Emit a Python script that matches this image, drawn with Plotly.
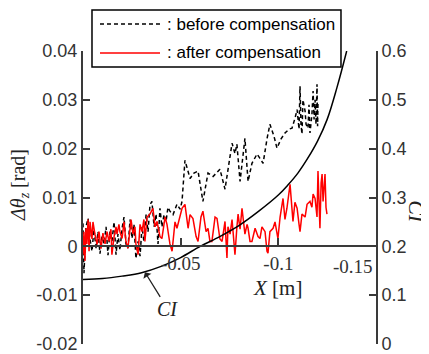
import plotly.graph_objects as go

# ---- data (X in mm, converted to m below; angles in rad) ----
before_x_mm = [0, -0.5, -1.5, -2.6, -3.6, -4.6, -5.6, -6.7, -7.7, -8.7, -9.7, -10.8, -11.8, -12.8,
               -13.8, -14.8, -15.9, -16.9, -17.9, -18.9, -20.0, -21.0, -22.0, -23.0, -24.1, -25.1,
               -26.1, -27.1, -28.2, -29.2, -30.2, -31.2, -32.3, -33.3, -34.3, -35.3, -36.4, -37.4,
               -38.4, -39.4, -40.4, -41.5, -42.5, -43.5, -44.5, -46.1, -48.1, -49.7, -50.7, -52.2,
               -54.8, -56.8, -58.9, -61.4, -64.0, -66.6, -70.1, -72.7, -76.3, -77.8, -78.8, -80.4,
               -82.9, -84.5, -86.5, -89.1, -90.6, -92.2, -94.2, -95.7, -97.8, -99.3, -101.4, -103.4,
               -105.5, -107.0, -108.5, -109.6, -110.6, -111.1, -111.6, -112.1, -112.6, -113.7,
               -114.2, -115.2, -115.7, -116.2, -117.2, -117.8, -118.3, -118.8, -119.3, -119.8,
               -120.1, -120.3]
before_val = [0.0047, -0.0055, 0.0040, 0.0057, 0.0015, -0.0010, 0.0035, -0.0004, 0.0030, -0.0015,
              0.0020, 0.0005, 0.0040, -0.0018, 0.0030, 0.0010, 0.0050, -0.0017, 0.0025, -0.0008,
              0.0037, 0.0060, 0.0005, -0.0004, 0.0055, 0.0016, 0.0045, -0.0025, 0.0010, -0.0020,
              0.0040, 0.0010, 0.0065, 0.0030, 0.0085, 0.0092, 0.0040, 0.0066, 0.0005, 0.0078,
              0.0040, 0.0065, 0.0051, 0.0080, 0.0072, 0.0065, 0.0086, 0.0076, 0.0092, 0.0176,
              0.0139, 0.0150, 0.0154, 0.0092, 0.0150, 0.0143, 0.0158, 0.0117, 0.0211, 0.0190,
              0.0209, 0.0133, 0.0221, 0.0133, 0.0170, 0.0189, 0.0180, 0.0170, 0.0220, 0.0250,
              0.0225, 0.0201, 0.0220, 0.0232, 0.0240, 0.0242, 0.0262, 0.0280, 0.0240, 0.0328,
              0.0250, 0.0230, 0.0300, 0.0277, 0.0250, 0.0242, 0.0290, 0.0232, 0.0270, 0.0318,
              0.0260, 0.0300, 0.0250, 0.0332, 0.0246, 0.0297]

after_x_mm = [0, -0.5, -1.0, -1.5, -2.0, -2.6, -3.1, -3.6, -4.6, -5.1, -6.1, -7.2, -8.2, -9.2, -10.2,
              -11.3, -12.3, -13.3, -14.3, -14.8, -15.9, -16.9, -17.4, -18.4, -18.9, -20.0, -21.0,
              -22.0, -23.0, -24.1, -24.6, -25.6, -26.6, -27.1, -28.2, -29.2, -30.2, -31.2, -31.7,
              -32.8, -34.3, -35.8, -36.9, -37.9, -39.4, -40.4, -42.0, -43.0, -44.5, -45.6, -47.1,
              -48.1, -49.7, -50.7, -52.2, -53.8, -54.8, -56.3, -57.9, -58.9, -60.4, -61.4, -63.0,
              -64.0, -65.0, -66.0, -67.6, -68.6, -70.1, -71.2, -72.7, -73.7, -74.2, -75.3, -76.3,
              -77.8, -78.8, -79.4, -80.4, -81.4, -82.9, -84.0, -84.5, -85.5, -86.5, -88.1, -89.6,
              -90.6, -91.6, -93.2, -94.2, -94.7, -95.7, -97.3, -98.3, -99.8, -100.9, -102.4,
              -103.4, -104.4, -106.0, -107.0, -107.5, -108.5, -109.6, -110.6, -111.1, -112.1,
              -113.7, -114.7, -116.2, -117.2, -117.8, -118.8, -119.8, -120.3, -121.3, -121.9,
              -122.4, -122.9, -123.4, -123.9, -124.4, -124.9]
after_val = [-0.0017, 0.0030, -0.0030, 0.0037, 0.0005, 0.0055, -0.0010, 0.0050, 0.0015, 0.0050,
             0.0025, 0.0004, 0.0030, -0.0005, 0.0027, 0.0005, 0.0030, 0.0010, 0.0035, -0.0017,
             0.0020, 0.0040, 0.0025, 0.0045, 0.0030, 0.0016, 0.0050, 0.0010, -0.0004, 0.0040,
             0.0055, 0.0025, 0.0040, 0.0005, -0.0017, 0.0045, 0.0030, 0.0055, 0.0010, 0.0060,
             0.0066, 0.0078, 0.0040, 0.0051, 0.0020, 0.0016, 0.0060, 0.0045, 0.0005, -0.0010,
             0.0050, 0.0037, 0.0060, 0.0078, 0.0086, 0.0037, 0.0065, 0.0057, 0.0020, 0.0010,
             0.0060, 0.0072, 0.0030, 0.0037, 0.0010, 0.0010, 0.0060, 0.0057, 0.0015, 0.0010,
             0.0051, -0.0024, 0.0040, 0.0025, 0.0055, -0.0017, 0.0040, 0.0066, 0.0035, 0.0078,
             0.0025, 0.0045, 0.0037, 0.0010, 0.0010, 0.0037, 0.0020, 0.0016, 0.0040, 0.0030,
             -0.0010, -0.0014, 0.0030, 0.0037, 0.0050, 0.0016, 0.0060, 0.0098, 0.0055, 0.0078,
             0.0127, 0.0070, 0.0051, 0.0090, 0.0078, 0.0045, 0.0030, 0.0066, 0.0060, 0.0086,
             0.0092, 0.0080, 0.0107, 0.0098, 0.0060, 0.0154, 0.0037, 0.0130, 0.0148, 0.0092,
             0.0130, 0.0148, 0.0080, 0.0066]

ci_x_mm = [0, -10, -20, -30, -40, -50, -60, -70, -80, -90, -100, -105, -110, -115, -120, -125, -130, -135]
ci_val = [0.132, 0.134, 0.139, 0.146, 0.159, 0.177, 0.200, 0.220, 0.243, 0.272, 0.305, 0.326, 0.350,
          0.380, 0.415, 0.460, 0.525, 0.600]

left_ticks = [-0.02, -0.01, 0, 0.01, 0.02, 0.03, 0.04]
left_ticktext = ["-0.02", "-0.01", "0", "0.01", "0.02", "0.03", "0.04"]
right_ticks = [0, 0.1, 0.2, 0.3, 0.4, 0.5, 0.6]
right_ticktext = ["0", "0.1", "0.2", "0.3", "0.4", "0.5", "0.6"]
x_ticks = [-0.05, -0.1, -0.15]
x_ticktext = ["-0.05", "-0.1", "-0.15"]

to_m = lambda a: [v / 1000.0 for v in a]

AX = "#3a3a3a"
fig = go.Figure()
fig.add_trace(go.Scatter(x=to_m(before_x_mm), y=before_val, mode="lines",
                         line=dict(color="black", width=1.5, dash="4px,3px"),
                         name="before compensation", showlegend=False))
fig.add_trace(go.Scatter(x=to_m(after_x_mm), y=after_val, mode="lines",
                         line=dict(color="#ff0000", width=1.5),
                         name="after compensation", showlegend=False))
fig.add_trace(go.Scatter(x=to_m(ci_x_mm), y=ci_val, mode="lines", yaxis="y2",
                         line=dict(color="black", width=1.5, shape="spline"),
                         name="CI", showlegend=False))

sans = "Liberation Sans, Arial, sans-serif"
serif = "Liberation Serif, Times New Roman, serif"

# page body has an 8px margin: figure is 421x346 so the plot area lands at (83,51)-(376,344)
fig.update_layout(
    width=421, height=346,
    margin=dict(l=75, r=53, t=43, b=10, autoexpand=False),
    paper_bgcolor="white", plot_bgcolor="white",
    showlegend=False,
    xaxis=dict(range=[0, -0.15], anchor="free", position=1/3, showgrid=False, zeroline=False,
               automargin=False,
               showline=True, linecolor=AX, linewidth=2, ticks="inside", ticklen=7,
               tickwidth=1.5, tickcolor=AX, tickvals=x_ticks[:2], ticktext=x_ticktext[:2],
               ticklabelstandoff=0,
               tickfont=dict(family=serif, size=19, color="#333")),
    yaxis=dict(range=[-0.02, 0.04], showgrid=False, zeroline=False, showline=True,
               automargin=False, ticklabeloverflow="allow",
               linecolor=AX, linewidth=2, ticks="inside", ticklen=7, tickwidth=1.5,
               tickcolor=AX, tickvals=left_ticks, ticktext=left_ticktext,
               tickfont=dict(family=sans, size=18, color="#333")),
    yaxis2=dict(range=[0, 0.6], overlaying="y", side="right", showgrid=False, zeroline=False,
                automargin=False, ticklabeloverflow="allow",
                showline=True, linecolor=AX, linewidth=2, ticks="inside", ticklen=7,
                tickwidth=1.5, tickcolor=AX, tickvals=right_ticks, ticktext=right_ticktext,
                tickfont=dict(family=sans, size=18, color="#333")),
)

# last x tick label sits left of the right axis, as in the original
fig.add_annotation(x=-0.1382, y=-0.0041, xref="x", yref="y", text=x_ticktext[2], showarrow=False,
                   xanchor="center", yanchor="middle",
                   font=dict(family=serif, size=19, color="#333"))

# Legend box drawn manually
fig.add_shape(type="rect", xref="paper", yref="paper", x0=0.0307, x1=0.8805, y0=0.9454, y1=1.14,
              line=dict(color="black", width=1.5), fillcolor="white", layer="above")
fig.add_shape(type="line", xref="paper", yref="paper", x0=0.058, x1=0.2628, y0=1.092, y1=1.092,
              line=dict(color="black", width=1.5, dash="4px,3px"), layer="above")
fig.add_shape(type="line", xref="paper", yref="paper", x0=0.058, x1=0.2628, y0=0.9932, y1=0.9932,
              line=dict(color="#ff0000", width=1.5), layer="above")
fig.add_annotation(xref="paper", yref="paper", x=0.2799, y=1.092, xanchor="left", yanchor="middle",
                   text=": before compensation", showarrow=False,
                   font=dict(family=sans, size=17, color="black"))
fig.add_annotation(xref="paper", yref="paper", x=0.2799, y=0.9932, xanchor="left", yanchor="middle",
                   text=": after compensation", showarrow=False,
                   font=dict(family=sans, size=17, color="black"))

# Axis titles
fig.add_annotation(xref="paper", yref="paper", x=-0.215, y=0.543, textangle=-90,
                   xanchor="center", yanchor="middle",
                   text="<i>Δθ</i><sub><i>z</i></sub> [rad]", showarrow=False,
                   font=dict(family=serif, size=20, color="#222"))
fig.add_annotation(xref="paper", yref="paper", x=0.6655, y=0.191,
                   xanchor="center", yanchor="middle",
                   text="<i>X</i> [m]", showarrow=False,
                   font=dict(family=serif, size=21, color="#222"))
fig.add_annotation(xref="paper", yref="paper", x=1.14, y=0.45, textangle=90,
                   xanchor="center", yanchor="middle",
                   text="<i>CI</i>", showarrow=False,
                   font=dict(family=serif, size=22, color="#222"))

# CI callout
fig.add_annotation(x=-0.0317, y=-0.0053, xref="x", yref="y", ax=-0.0435, ay=-0.0129,
                   axref="x", ayref="y", text="<i>CI</i>", showarrow=True, arrowhead=1,
                   arrowsize=1.2, arrowwidth=1.3, arrowcolor="#222",
                   font=dict(family=serif, size=20, color="#222"))

fig.write_html("out.html")
